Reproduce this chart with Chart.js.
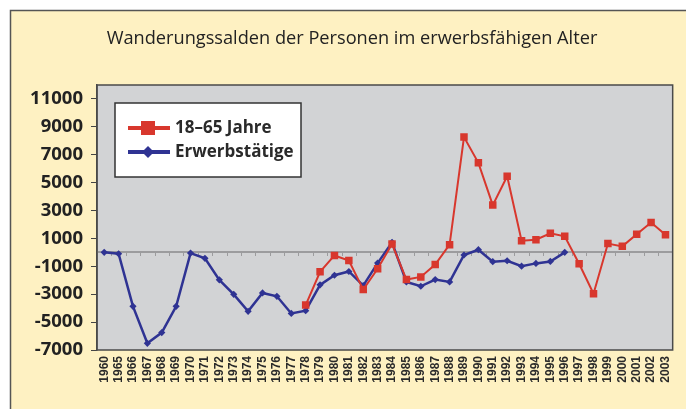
<!DOCTYPE html>
<html>
<head>
<meta charset="utf-8">
<script src="https://cdn.jsdelivr.net/npm/chart.js@4"></script>
<style>
html,body{margin:0;padding:0;background:#fff;}
#wrap{position:relative;width:686px;height:409px;}
</style>
</head>
<body>
<div id="wrap"><canvas id="c" width="686" height="409"></canvas></div>
<script>
const chartTitle = 'Wanderungssalden der Personen im erwerbsfähigen Alter';
const years = ['1960','1965','1966','1967','1968','1969','1970','1971','1972','1973','1974','1975','1976','1977','1978','1979','1980','1981','1982','1983','1984','1985','1986','1987','1988','1989','1990','1991','1992','1993','1994','1995','1996','1997','1998','1999','2000','2001','2002','2003'];
const jahre1865 = [null,null,null,null,null,null,null,null,null,null,null,null,null,null,-3780,-1390,-220,-580,-2670,-1180,600,-1950,-1760,-870,550,8270,6420,3390,5460,840,910,1370,1150,-820,-2960,630,430,1300,2140,1270];
const erwerbstaetige = [0,-100,-3870,-6520,-5750,-3870,-50,-430,-1970,-3010,-4230,-2910,-3150,-4380,-4180,-2330,-1640,-1370,-2380,-770,720,-2120,-2430,-1950,-2120,-190,190,-670,-600,-990,-790,-650,0,null,null,null,null,null,null,null];
const yTicks = [-7000,-5000,-3000,-1000,1000,3000,5000,7000,9000,11000];
const seriesLabels = ['18\u201365 Jahre','Erwerbstätige'];

const RED = '#D8372D';
const BLUE = '#2F3393';

const framePlugin = {
  id: 'frame',
  beforeDraw(chart) {
    const ctx = chart.ctx;
    const a = chart.chartArea;
    ctx.save();
    ctx.fillStyle = '#ffffff';
    ctx.fillRect(0, 0, chart.width, chart.height);
    ctx.fillStyle = '#FEF1C2';
    ctx.fillRect(10, 10, chart.width, chart.height);
    ctx.strokeStyle = '#555555';
    ctx.lineWidth = 1.5;
    ctx.beginPath();
    ctx.moveTo(10.5, chart.height + 2);
    ctx.lineTo(10.5, 10.5);
    ctx.lineTo(chart.width + 2, 10.5);
    ctx.stroke();
    ctx.fillStyle = '#D2D3D5';
    ctx.fillRect(a.left, a.top, a.right - a.left, a.bottom - a.top);
    ctx.fillStyle = '#222222';
    ctx.font = '18.2px "Open Sans"';
    ctx.textAlign = 'center';
    ctx.textBaseline = 'alphabetic';
    ctx.fillText(chartTitle, 352, 44);
    ctx.restore();
  },
  beforeDatasetsDraw(chart) {
    const ctx = chart.ctx;
    const a = chart.chartArea;
    const x = chart.scales.x, y = chart.scales.y;
    const y0 = Math.round(y.getPixelForValue(0));
    ctx.save();
    ctx.strokeStyle = '#9C9C9E';
    ctx.lineWidth = 2;
    ctx.beginPath();
    ctx.moveTo(a.left, y0);
    ctx.lineTo(a.right, y0);
    ctx.stroke();
    ctx.lineWidth = 1;
    ctx.beginPath();
    for (let i = 1; i < years.length; i++) {
      const px = Math.round((x.getPixelForValue(i - 1) + x.getPixelForValue(i)) / 2) + 0.5;
      ctx.moveTo(px, y0);
      ctx.lineTo(px, y0 + 4);
    }
    ctx.stroke();
    ctx.strokeStyle = '#4a4a4a';
    ctx.lineWidth = 1.5;
    ctx.strokeRect(a.left, a.top, a.right - a.left, a.bottom - a.top);
    ctx.restore();
  },
  afterDraw(chart) {
    const ctx = chart.ctx;
    ctx.save();
    ctx.fillStyle = '#ffffff';
    ctx.fillRect(115, 103, 186, 74);
    ctx.strokeStyle = '#333333';
    ctx.lineWidth = 1.5;
    ctx.strokeRect(115, 103, 186, 74);
    const rows = [128, 152];
    chart.data.datasets.forEach((ds, i) => {
      const cy = rows[i];
      ctx.strokeStyle = ds.borderColor;
      ctx.lineWidth = 4;
      ctx.beginPath();
      ctx.moveTo(128, cy);
      ctx.lineTo(170, cy);
      ctx.stroke();
      ctx.fillStyle = ds.borderColor;
      if (i === 0) {
        ctx.fillRect(141, cy - 7, 14, 14);
      } else {
        ctx.beginPath();
        ctx.moveTo(148, cy - 6);
        ctx.lineTo(154, cy);
        ctx.lineTo(148, cy + 6);
        ctx.lineTo(142, cy);
        ctx.closePath();
        ctx.fill();
      }
      ctx.fillStyle = '#2a2a2a';
      ctx.font = 'bold 17px "Open Sans"';
      ctx.textAlign = 'left';
      ctx.textBaseline = 'middle';
      ctx.fillText(ds.label, 175, cy);
    });
    ctx.restore();
  }
};

new Chart(document.getElementById('c'), {
  type: 'line',
  data: {
    labels: years,
    datasets: [
      {
        label: seriesLabels[0],
        data: jahre1865,
        borderColor: RED,
        backgroundColor: RED,
        borderWidth: 2,
        pointStyle: 'rect',
        pointRadius: 5.3,
        pointBorderWidth: 0,
        tension: 0,
        spanGaps: false
      },
      {
        label: seriesLabels[1],
        data: erwerbstaetige,
        borderColor: BLUE,
        backgroundColor: BLUE,
        borderWidth: 2.5,
        pointStyle: 'rectRot',
        pointRadius: 3.6,
        pointBorderWidth: 0,
        tension: 0,
        spanGaps: false
      }
    ]
  },
  options: {
    responsive: false,
    animation: false,
    devicePixelRatio: 1,
    layout: { padding: { left: 0, right: 10, top: 85, bottom: 0 } },
    plugins: {
      legend: { display: false },
      title: { display: false },
      tooltip: { enabled: false }
    },
    scales: {
      x: {
        offset: true,
        grid: { display: false, drawTicks: false },
        border: { display: false },
        ticks: {
          autoSkip: false,
          maxRotation: 90,
          minRotation: 90,
          padding: 6,
          color: '#2a2a2a',
          font: { family: '"Liberation Sans"', size: 12, weight: 'bold' }
        },
        afterFit(scale) { scale.height = 59; }
      },
      y: {
        min: -7000,
        max: 12000,
        afterBuildTicks(scale) { scale.ticks = yTicks.map(v => ({ value: v })); },
        grid: { drawOnChartArea: false, drawTicks: true, tickLength: 6, color: '#444444', lineWidth: 1 },
        border: { display: true, color: '#4a4a4a', width: 1.5 },
        ticks: {
          padding: 8,
          color: '#222222',
          font: { family: '"Open Sans"', size: 18.5, weight: 'bold' },
          callback: (v) => String(v)
        },
        afterFit(scale) { scale.width = 97; }
      }
    }
  },
  plugins: [framePlugin]
});
</script>
</body>
</html>
